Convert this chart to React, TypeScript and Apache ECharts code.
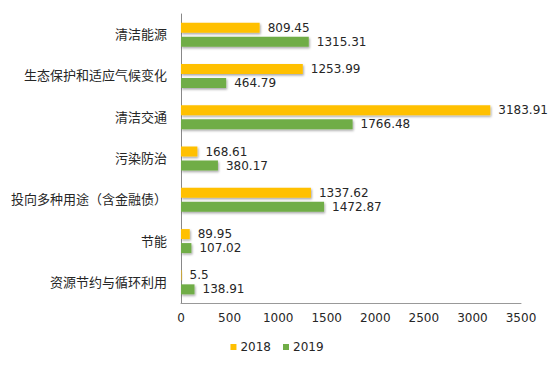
import React, { useEffect, useRef } from "react";
import * as echarts from "echarts";

const categories = [
  "清洁能源",
  "生态保护和适应气候变化",
  "清洁交通",
  "污染防治",
  "投向多种用途（含金融债）",
  "节能",
  "资源节约与循环利用",
];
const values2018 = [809.45, 1253.99, 3183.91, 168.61, 1337.62, 89.95, 5.5];
const values2019 = [1315.31, 464.79, 1766.48, 380.17, 1472.87, 107.02, 138.91];
const seriesNames = ["2018", "2019"];

const FONT = "'DejaVu Sans', 'Noto Sans CJK SC', sans-serif";

export default function App() {
  const ref = useRef<HTMLDivElement>(null);
  useEffect(() => {
    document.body.style.margin = "0";
    if (!ref.current) return;
    const chart = echarts.init(ref.current, null, { renderer: "svg" });
    const shadow = {
      shadowColor: "rgba(0,0,0,0.35)",
      shadowBlur: 2,
      shadowOffsetX: 1,
      shadowOffsetY: 1.5,
    };
    const label = {
      show: true,
      position: "right" as const,
      distance: 8,
      color: "#262626",
      fontSize: 12,
      fontFamily: FONT,
      formatter: (p: any) => String(p.value),
    };
    chart.setOption({
      animation: false,
      backgroundColor: "#ffffff",
      textStyle: { fontFamily: FONT },
      grid: { left: 181, right: 33, top: 14, bottom: 63, containLabel: false },
      legend: {
        bottom: 8,
        left: "center",
        itemWidth: 6,
        itemHeight: 6,
        itemGap: 12,
        icon: "rect",
        textStyle: { fontSize: 12, color: "#262626", fontFamily: FONT, padding: [0, 0, 0, -1] },
        data: seriesNames,
      },
      xAxis: {
        type: "value",
        min: 0,
        max: 3500,
        interval: 500,
        axisLine: { show: true, lineStyle: { color: "#999999", width: 1 } },
        axisTick: { show: false },
        splitLine: { show: false },
        axisLabel: {
          color: "#262626",
          fontSize: 12,
          fontFamily: FONT,
          margin: 9,
          formatter: (v: number) => String(v),
        },
      },
      yAxis: {
        type: "category",
        data: categories,
        inverse: true,
        axisLine: { show: true, lineStyle: { color: "#888888", width: 1 } },
        axisTick: { show: false },
        axisLabel: { color: "#262626", fontSize: 13, fontFamily: FONT, margin: 14 },
      },
      series: [
        {
          name: seriesNames[0],
          type: "bar",
          data: values2018,
          barWidth: 10,
          barGap: "40%",
          itemStyle: { color: "#FFC000", ...shadow },
          label,
        },
        {
          name: seriesNames[1],
          type: "bar",
          data: values2019,
          barWidth: 10,
          itemStyle: { color: "#70AD47", ...shadow },
          label,
        },
      ],
    });
    return () => chart.dispose();
  }, []);
  return <div ref={ref} style={{ width: 554, height: 366 }} />;
}
